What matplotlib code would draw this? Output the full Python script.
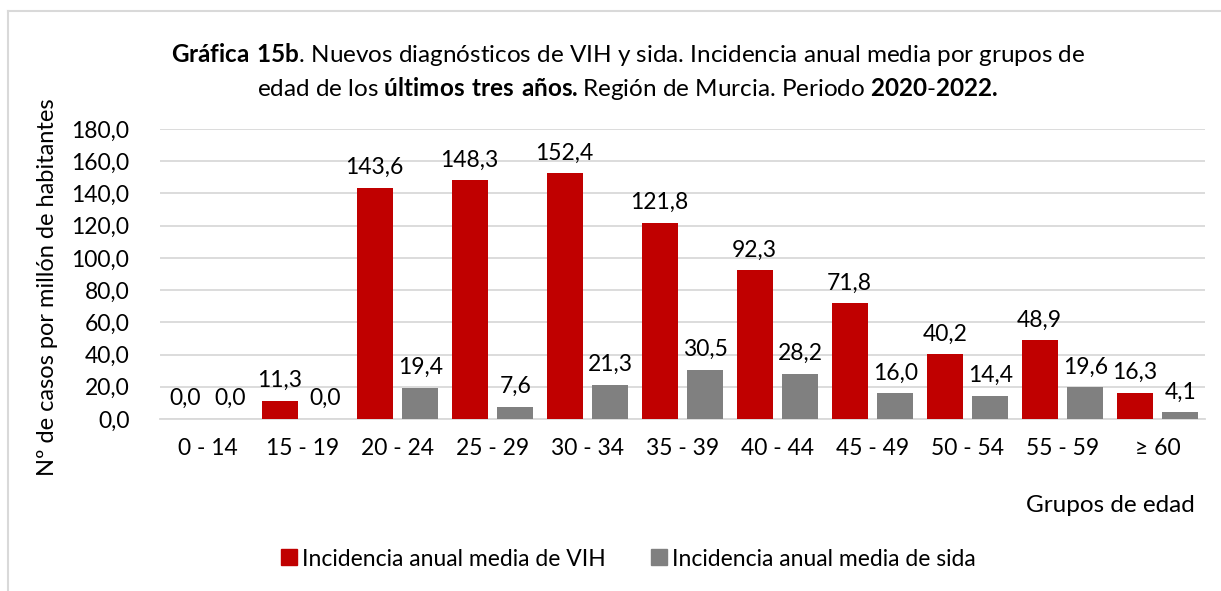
import matplotlib.pyplot as plt
import numpy as np
from matplotlib.lines import Line2D

plt.rcParams['font.family'] = ['Lato', 'DejaVu Sans']
plt.rcParams['mathtext.fontset'] = 'custom'
plt.rcParams['mathtext.rm'] = 'Lato'
plt.rcParams['mathtext.bf'] = 'Lato:bold'

# data
grupos = ['0 - 14', '15 - 19', '20 - 24', '25 - 29', '30 - 34', '35 - 39',
          '40 - 44', '45 - 49', '50 - 54', '55 - 59', '≥ 60']
vih = [0.0, 11.3, 143.6, 148.3, 152.4, 121.8, 92.3, 71.8, 40.2, 48.9, 16.3]
sida = [0.0, 0.0, 19.4, 7.6, 21.3, 30.5, 28.2, 16.0, 14.4, 19.6, 4.1]
yticks = [0, 20, 40, 60, 80, 100, 120, 140, 160, 180]

red = '#C00000'
grey = '#808080'
grid_col = '#D9D9D9'

fig = plt.figure(figsize=(12.21, 5.91), dpi=100)
ax = fig.add_axes([160 / 1221, 1 - 419 / 591, 1045 / 1221, 290 / 591])

x = np.arange(len(grupos))
w = 0.38
b1 = ax.bar(x - 0.24, vih, w, color=red, zorder=3)
b2 = ax.bar(x + 0.24, sida, w, color=grey, zorder=3)

fmt = lambda v: f'{v:.1f}'.replace('.', ',')
ax.bar_label(b1, labels=[fmt(v) for v in vih], padding=7, fontsize=16.5, color='#000000')
ax.bar_label(b2, labels=[fmt(v) for v in sida], padding=7, fontsize=16.5, color='#000000')

ax.set_xlim(-0.5, len(grupos) - 0.5)
ax.set_ylim(0, 180)
ax.set_yticks(yticks)
ax.set_yticklabels([fmt(v) for v in yticks], fontsize=16.5)
ax.set_xticks(x)
ax.set_xticklabels(grupos, fontsize=16.5)
ax.tick_params(axis='both', length=0)
ax.tick_params(axis='x', pad=14)
ax.tick_params(axis='y', pad=22)
ax.grid(axis='y', color=grid_col, linewidth=1.3, zorder=0)
for s in ['top', 'right', 'left']:
    ax.spines[s].set_visible(False)
ax.spines['bottom'].set_color(grid_col)
ax.spines['bottom'].set_linewidth(1.3)

ax.set_ylabel('Nº de casos por millón de habitantes', fontsize=17)
ax.yaxis.set_label_coords(-102 / 1045, 0.455)
fig.text(1195 / 1221, 1 - 506 / 591, 'Grupos de edad', fontsize=17.5, ha='right', va='center')

# two-line title with bold parts
fig.text(628 / 1221, 1 - 55 / 591,
         r'$\mathbf{Gráfica\ 15b}$. Nuevos diagnósticos de VIH y sida. Incidencia anual media por grupos de',
         fontsize=17.5, ha='center', va='center')
fig.text(628 / 1221, 1 - 88 / 591,
         r'edad de los $\mathbf{últimos\ tres\ años.}$Región de Murcia. Periodo $\mathbf{2020\text{-}2022.}$',
         fontsize=17.5, ha='center', va='center')

handles = [Line2D([], [], marker='s', linestyle='', color=red, markersize=12),
           Line2D([], [], marker='s', linestyle='', color=grey, markersize=12)]
fig.legend(handles, ['Incidencia anual media de VIH', 'Incidencia anual media de sida'],
           loc='center', bbox_to_anchor=(626 / 1221, 1 - 559 / 591), ncol=2, frameon=False,
           fontsize=16.5, handletextpad=0.0, columnspacing=1.8, handlelength=1.1)

# light frame of the chart area
fig.add_artist(Line2D([8 / 1221, 1], [1 - 11 / 591] * 2, color=grid_col, linewidth=1.5))
fig.add_artist(Line2D([8 / 1221] * 2, [0, 1 - 11 / 591], color=grid_col, linewidth=1.5))

plt.savefig('out.png', dpi=100)
